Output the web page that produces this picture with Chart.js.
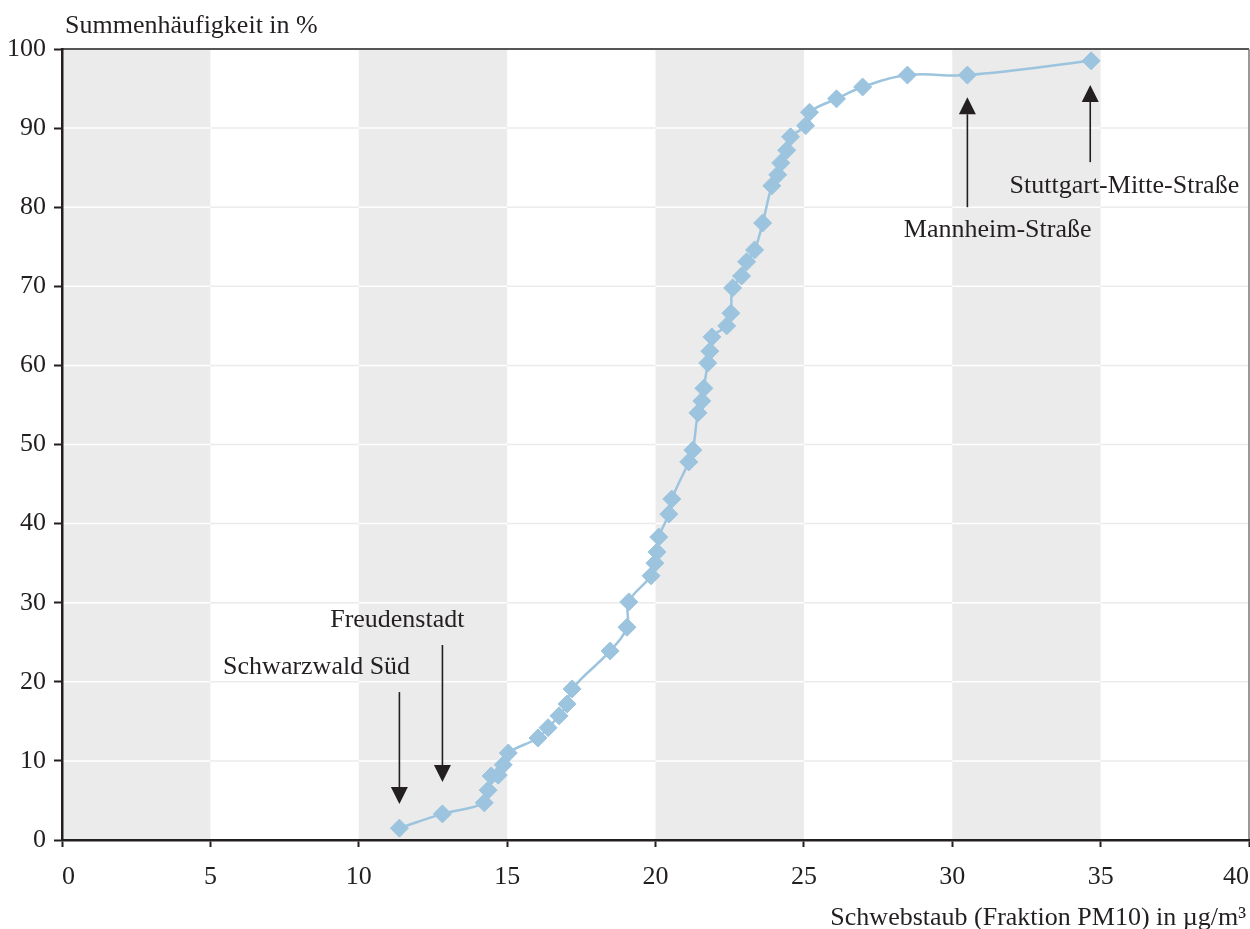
<!DOCTYPE html>
<html lang="de">
<head>
    <meta charset="UTF-8">
    <title>Summenhäufigkeit Schwebstaub PM10</title>
    <script src="https://cdn.jsdelivr.net/npm/chart.js"></script>
    <style>
        html, body { margin: 0; padding: 0; background: #fff; }
        .chart-container { width: 1250px; height: 929px; position: relative; }
    </style>
</head>
<body>

    <div class="chart-container">
        <canvas id="pmChart"></canvas>
    </div>

    <script>
        // Jahresmittelwerte der Stationen (µg/m³) und Summenhäufigkeit (%)
        const pm10 = [11.37, 12.82, 14.23, 14.36, 14.46, 14.70, 14.87, 15.04, 16.04, 16.38,
                      16.75, 17.02, 17.19, 18.47, 19.04, 19.10, 19.85, 19.98, 20.05, 20.11,
                      20.45, 20.55, 21.12, 21.26, 21.43, 21.56, 21.63, 21.76, 21.83, 21.90,
                      22.40, 22.54, 22.60, 22.90, 23.07, 23.34, 23.61, 23.92, 24.12, 24.22,
                      24.42, 24.55, 25.06, 25.19, 26.10, 26.98, 28.49, 30.51, 34.68];
        const cumPercent = [1.5, 3.3, 4.7, 6.3, 8.1, 8.2, 9.5, 11.0, 12.9, 14.2,
                            15.7, 17.2, 19.1, 23.9, 26.9, 30.1, 33.4, 35.0, 36.4, 38.3,
                            41.2, 43.1, 47.8, 49.3, 54.0, 55.5, 57.1, 60.3, 61.8, 63.6,
                            65.0, 66.6, 69.8, 71.3, 73.1, 74.6, 78.0, 82.7, 84.1, 85.6,
                            87.2, 88.9, 90.3, 92.0, 93.7, 95.2, 96.7, 96.7, 98.5];

        const stationNames = ['Schwarzwald Süd', 'Freudenstadt', 'Mannheim-Straße', 'Stuttgart-Mitte-Straße'];

        const xTitle = 'Schwebstaub (Fraktion PM10) in µg/m³';
        const yTitle = 'Summenhäufigkeit in %';

        // where the station labels and their arrows sit (axis units)
        const notes = [
            { text: stationNames[0], tx: 8.58, ty: 21.0, ax: 11.37, from: 18.7, to: 4.55 },
            { text: stationNames[1], tx: 11.30, ty: 26.9, ax: 12.82, from: 24.65, to: 7.33 },
            { text: stationNames[2], tx: 31.53, ty: 76.2, ax: 30.51, from: 80.0, to: 93.9 },
            { text: stationNames[3], tx: 35.80, ty: 81.8, ax: 34.65, from: 85.7, to: 95.45 }
        ];

        const ink = '#231f20';
        const blue = '#9cc4de';
        const serif = '"Liberation Serif", "Times New Roman", serif';

        const backdrop = {
            id: 'backdrop',
            beforeDraw(chart) {
                const { ctx, chartArea: a, scales: { x, y } } = chart;
                ctx.save();
                // grey bands every other 5 units
                ctx.fillStyle = '#ebebeb';
                for (let v = 0; v < 40; v += 10) {
                    ctx.fillRect(x.getPixelForValue(v), a.top, x.getPixelForValue(v + 5) - x.getPixelForValue(v), a.bottom - a.top);
                }
                // horizontal grid: white over grey, light grey over white
                ctx.lineWidth = 1.5;
                for (let t = 10; t < 100; t += 10) {
                    const py = y.getPixelForValue(t);
                    for (let v = 0; v < 40; v += 5) {
                        ctx.strokeStyle = (v % 10 === 0) ? '#ffffff' : '#ebebeb';
                        ctx.beginPath();
                        ctx.moveTo(x.getPixelForValue(v), py);
                        ctx.lineTo(x.getPixelForValue(v + 5), py);
                        ctx.stroke();
                    }
                }
                // frame top and right
                ctx.strokeStyle = '#555';
                ctx.lineWidth = 2;
                ctx.beginPath();
                ctx.moveTo(a.left, a.top);
                ctx.lineTo(a.right, a.top);
                ctx.stroke();
                ctx.lineWidth = 1.5;
                ctx.strokeStyle = '#777';
                ctx.beginPath();
                ctx.moveTo(a.right, a.top);
                ctx.lineTo(a.right, a.bottom);
                ctx.stroke();
                ctx.restore();
            },
            afterDraw(chart) {
                const { ctx, scales: { x, y } } = chart;
                ctx.save();
                ctx.font = '26px ' + serif;
                ctx.fillStyle = ink;
                ctx.strokeStyle = ink;
                ctx.textBaseline = 'alphabetic';

                // axis titles
                ctx.textAlign = 'left';
                ctx.fillText(yTitle, 65, 33);
                ctx.textAlign = 'right';
                ctx.fillText(xTitle, 1246, 925);

                // station labels with arrows
                notes.forEach(n => {
                    ctx.textAlign = 'center';
                    ctx.fillText(n.text, x.getPixelForValue(n.tx), y.getPixelForValue(n.ty));

                    const px = x.getPixelForValue(n.ax);
                    const p0 = y.getPixelForValue(n.from);
                    const p1 = y.getPixelForValue(n.to);
                    const dir = p1 > p0 ? 1 : -1;
                    const headLen = 17, headHalf = 8.5;
                    ctx.lineWidth = 1.6;
                    ctx.beginPath();
                    ctx.moveTo(px, p0);
                    ctx.lineTo(px, p1 - dir * headLen);
                    ctx.stroke();
                    ctx.beginPath();
                    ctx.moveTo(px, p1);
                    ctx.lineTo(px - headHalf, p1 - dir * headLen);
                    ctx.lineTo(px + headHalf, p1 - dir * headLen);
                    ctx.closePath();
                    ctx.fill();
                });
                ctx.restore();
            }
        };

        const ctx = document.getElementById('pmChart').getContext('2d');

        const chart = new Chart(ctx, {
            type: 'scatter',
            data: {
                datasets: [{
                    data: pm10.map((v, i) => ({ x: v, y: cumPercent[i] })),
                    showLine: true,
                    tension: 0.4,
                    borderColor: blue,
                    borderWidth: 2.5,
                    backgroundColor: blue,
                    pointStyle: 'rectRot',
                    pointRadius: 9,
                    pointBorderWidth: 1,
                    pointBorderColor: blue,
                    pointBackgroundColor: blue
                }]
            },
            options: {
                responsive: true,
                maintainAspectRatio: false,
                animation: false,
                layout: { autoPadding: false, padding: { top: 49, right: 1, left: 0, bottom: 0 } },
                plugins: {
                    legend: { display: false },
                    tooltip: { enabled: false }
                },
                scales: {
                    x: {
                        type: 'linear',
                        min: 0,
                        max: 40,
                        afterFit: s => { s.height = 89; s.paddingLeft = 0; s.paddingRight = 0; },
                        grid: { drawOnChartArea: false, drawTicks: true, tickLength: 7, tickColor: ink, tickWidth: 2 },
                        border: { display: true, color: ink, width: 2.5 },
                        ticks: {
                            stepSize: 5,
                            padding: 15,
                            align: 'inner',
                            color: ink,
                            font: { family: serif, size: 26 },
                            maxRotation: 0
                        }
                    },
                    y: {
                        type: 'linear',
                        min: 0,
                        max: 100,
                        afterFit: s => { s.width = 62; s.paddingTop = 0; s.paddingBottom = 0; },
                        grid: { drawOnChartArea: false, drawTicks: true, tickLength: 8, tickColor: ink, tickWidth: 2 },
                        border: { display: true, color: ink, width: 2.5 },
                        ticks: {
                            stepSize: 10,
                            padding: 8,
                            color: ink,
                            font: { family: serif, size: 26 }
                        }
                    }
                }
            },
            plugins: [backdrop]
        });
    </script>
</body>
</html>
